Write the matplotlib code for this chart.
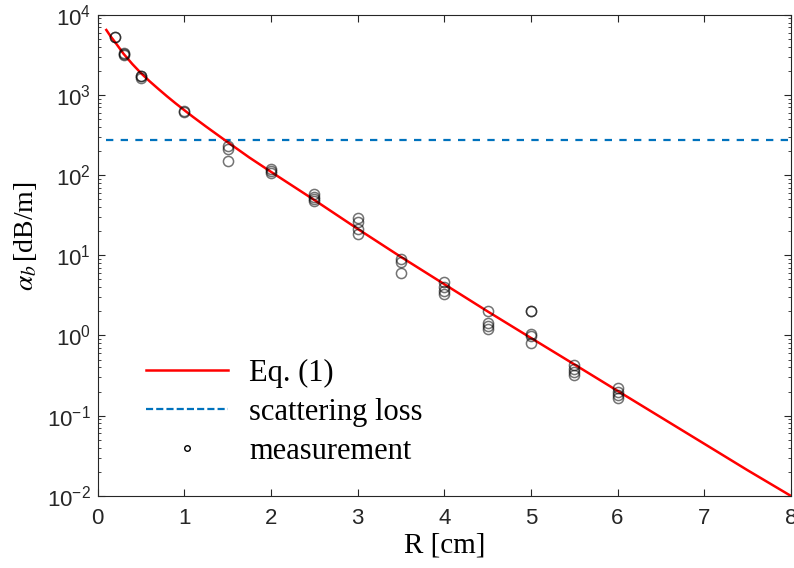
import matplotlib.pyplot as plt
from matplotlib.lines import Line2D
from matplotlib.ticker import LogLocator, NullFormatter

# Eq. (1) curve
R_fit = [0.1, 0.15, 0.2, 0.3, 0.4, 0.5, 0.6, 0.7, 0.8, 0.9, 1.0, 1.1, 1.25,
         1.5, 1.75, 2.0, 2.5, 3.0, 3.5, 4.0, 4.5, 5.0, 5.5, 6.0, 6.5, 7.0,
         7.5, 8.0]
alpha_fit = [6460, 5370, 4570, 3250, 2430, 1870, 1480, 1190, 962, 785, 646,
             533, 404, 258, 166, 110, 49.0, 21.4, 9.55, 4.37, 2.00, 0.933,
             0.437, 0.204, 0.0955, 0.0447, 0.0209, 0.0100]

# scattering loss level
R_scat = [0.1, 8.0]
alpha_scat = [278, 278]

# measured points
R_meas = [0.2, 0.2,
          0.3, 0.3, 0.3,
          0.5, 0.5, 0.5,
          1.0, 1.0,
          1.5, 1.5, 1.5,
          2.0, 2.0, 2.0,
          2.5, 2.5, 2.5, 2.5,
          3.0, 3.0, 3.0, 3.0,
          3.5, 3.5, 3.5,
          4.0, 4.0, 4.0, 4.0,
          4.5, 4.5, 4.5, 4.5,
          5.0, 5.0, 5.0, 5.0, 5.0,
          5.5, 5.5, 5.5, 5.5,
          6.0, 6.0, 6.0, 6.0]
alpha_meas = [5300, 5350,
              3150, 3250, 3300,
              1650, 1700, 1720,
              615, 630,
              228, 212, 152,
              118, 112, 106,
              58, 54, 50, 47,
              29.5, 26, 21, 18.3,
              9.0, 8.3, 6.1,
              4.6, 4.0, 3.6, 3.3,
              2.0, 1.45, 1.32, 1.22,
              2.05, 2.0, 1.05, 0.98, 0.8,
              0.43, 0.38, 0.35, 0.32,
              0.22, 0.2, 0.18, 0.165]

plt.rcParams['font.family'] = 'Liberation Sans'
plt.rcParams['mathtext.fontset'] = 'stix'
plt.rcParams['axes.unicode_minus'] = False
axis_gray = '#262626'

fig = plt.figure(figsize=(7.94, 5.68), dpi=100)
ax = fig.add_axes([0.123, 0.127, 0.873, 0.847])

ax.plot(R_fit, alpha_fit, color='red', lw=1.8, zorder=3)
ax.plot(R_scat, alpha_scat, color='#0072BD', lw=1.6, dashes=(3.3, 3.3),
        zorder=2)
ax.plot(R_meas, alpha_meas, 'o', ms=7.3, mfc='none', mec=(0, 0, 0, 0.55),
        mew=1.1, zorder=4)

ax.set_yscale('log')
ax.set_xlim(0, 8)
ax.set_ylim(1e-2, 1e4)
ax.set_xticks(range(9))
ax.yaxis.set_major_locator(LogLocator(base=10, numticks=10))
ax.yaxis.set_minor_locator(LogLocator(base=10, subs=range(2, 10), numticks=10))
ax.yaxis.set_minor_formatter(NullFormatter())

ax.tick_params(which='both', direction='in', top=True, right=True,
               colors=axis_gray, labelsize=16)
ax.tick_params(which='major', length=5, width=0.8)
ax.tick_params(which='minor', length=2.5, width=0.6)
ax.tick_params(axis='x', pad=8.5)
ax.tick_params(axis='y', pad=5)
for s in ax.spines.values():
    s.set_color(axis_gray)
    s.set_linewidth(0.8)

ax.set_xlabel('R [cm]', fontfamily='Liberation Serif', fontsize=21,
              labelpad=3)
ax.set_ylabel(r'$\alpha_b\,$[dB/m]', fontfamily='Liberation Serif',
              fontsize=20)
ax.yaxis.set_label_coords(-0.085, 0.54)

handles = [
    Line2D([], [], color='red', lw=1.8),
    Line2D([], [], color='#0072BD', lw=1.6, dashes=(3.2, 1.4)),
    Line2D([], [], ls='none', marker='o', ms=4, mfc='none', mec='black',
           mew=1.0),
]
ax.legend(handles, ['Eq. (1)', 'scattering loss', 'measurement'],
          loc='upper left', bbox_to_anchor=(0.052, 0.31), frameon=False,
          prop={'family': 'Liberation Serif', 'size': 22},
          handlelength=2.68, handletextpad=0.69, labelspacing=0.33,
          borderaxespad=0)

fig.savefig('out.png', dpi=100)
